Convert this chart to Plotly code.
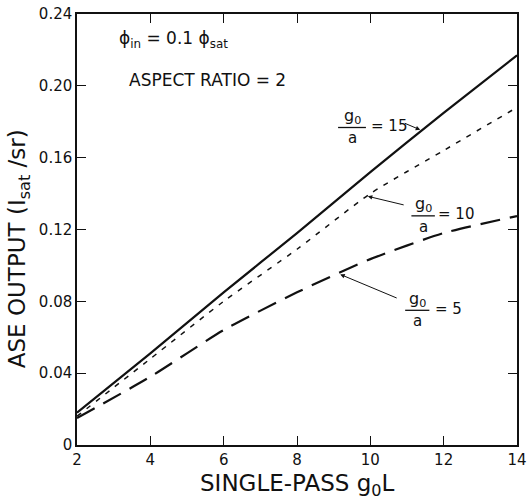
import plotly.graph_objects as go

# ---- data ----
gain_length = [2, 4, 6, 8, 10, 12, 14]
ase_ratio_15 = [0.018, 0.051, 0.085, 0.118, 0.152, 0.185, 0.217]
ase_ratio_10 = [0.016, 0.048, 0.080, 0.109, 0.140, 0.164, 0.188]
ase_ratio_5 = [0.015, 0.038, 0.064, 0.085, 0.1035, 0.118, 0.1275]

x_ticks = [2, 4, 6, 8, 10, 12, 14]
x_tick_text = ["2", "4", "6", "8", "10", "12", "14"]
y_ticks = [0, 0.04, 0.08, 0.12, 0.16, 0.20, 0.24]
y_tick_text = ["0", "0.04", "0.08", "0.12", "0.16", "0.20", "0.24"]

FONT = "DejaVu Sans, Liberation Sans, sans-serif"
BLACK = "#111111"

fig = go.Figure()
fig.add_trace(go.Scatter(x=gain_length, y=ase_ratio_15, mode="lines",
                         line=dict(color=BLACK, width=2.2, shape="spline", smoothing=0.6),
                         name="g0/a = 15", showlegend=False))
fig.add_trace(go.Scatter(x=gain_length, y=ase_ratio_10, mode="lines",
                         line=dict(color=BLACK, width=1.5, dash="5px,7px", shape="spline", smoothing=0.6),
                         name="g0/a = 10", showlegend=False))
fig.add_trace(go.Scatter(x=gain_length, y=ase_ratio_5, mode="lines",
                         line=dict(color=BLACK, width=2.2, dash="20px,10px", shape="spline", smoothing=0.6),
                         name="g0/a = 5", showlegend=False))

axis_common = dict(showline=True, linecolor=BLACK, linewidth=1.5, mirror="ticks",
                   ticks="inside", ticklen=9, tickwidth=1.2, tickcolor=BLACK,
                   showgrid=False, zeroline=False, automargin=False,
                   ticklabeloverflow="allow",
                   tickfont=dict(family=FONT, size=15, color=BLACK))

fig.update_xaxes(range=[2, 14], tickvals=x_ticks, ticktext=x_tick_text, **axis_common)
fig.update_yaxes(range=[0, 0.24], tickvals=y_ticks, ticktext=y_tick_text, **axis_common)

annotations = []
shapes = []

def txt(x, y, text, size=15, xanchor="left", xref="x", yref="y", angle=0):
    annotations.append(dict(x=x, y=y, xref=xref, yref=yref, text=text, showarrow=False,
                            xanchor=xanchor, yanchor="middle", textangle=angle,
                            font=dict(family=FONT, size=size, color=BLACK)))

# header text
txt(3.10, 0.2260, "\u03d5<sub>in</sub> = 0.1 \u03d5<sub>sat</sub>", size=17)
txt(3.37, 0.2032, "ASPECT RATIO = 2", size=17)

# fraction labels
def fraction_label(xc, y_line, half_w, value, x_eq, tip, tail):
    txt(xc, y_line + 0.0062, "g<sub>0</sub>", size=16, xanchor="center")
    txt(xc, y_line - 0.0060, "a", size=15, xanchor="center")
    shapes.append(dict(type="line", xref="x", yref="y", x0=xc - half_w, x1=xc + half_w,
                       y0=y_line, y1=y_line, line=dict(color=BLACK, width=1.3)))
    txt(x_eq, y_line + 0.0008, "= " + value, size=15)
    annotations.append(dict(x=tip[0], y=tip[1], ax=tail[0], ay=tail[1], xref="x", yref="y",
                            axref="x", ayref="y", text="", showarrow=True, arrowhead=2,
                            arrowsize=0.9, arrowwidth=1, arrowcolor=BLACK))

fraction_label(9.50, 0.1768, 0.38, "15", 9.97, (11.36, 0.1755), (10.90, 0.1795))
fraction_label(11.44, 0.1276, 0.32, "10", 11.78, (9.93, 0.1385), (10.95, 0.1335))
fraction_label(11.28, 0.0750, 0.33, "5", 11.70, (9.18, 0.0950), (10.76, 0.0815))

# axis titles
txt(-0.130, 0.456, "ASE OUTPUT (I<sub>sat</sub> /sr)", size=23, xanchor="center",
    xref="paper", yref="paper", angle=-90)
txt(0.5, -0.093, "SINGLE-PASS g<sub>0</sub>L", size=23, xanchor="center",
    xref="paper", yref="paper")

fig.update_layout(width=530, height=501, margin=dict(l=77, r=13, t=14, b=56),
                  paper_bgcolor="white", plot_bgcolor="white",
                  annotations=annotations, shapes=shapes, showlegend=False)

# remove the default 8px page margin so the figure sits at the window's corner
fig.write_html("out.html", config={"displayModeBar": False},
               post_script="document.body.style.margin='0';")
